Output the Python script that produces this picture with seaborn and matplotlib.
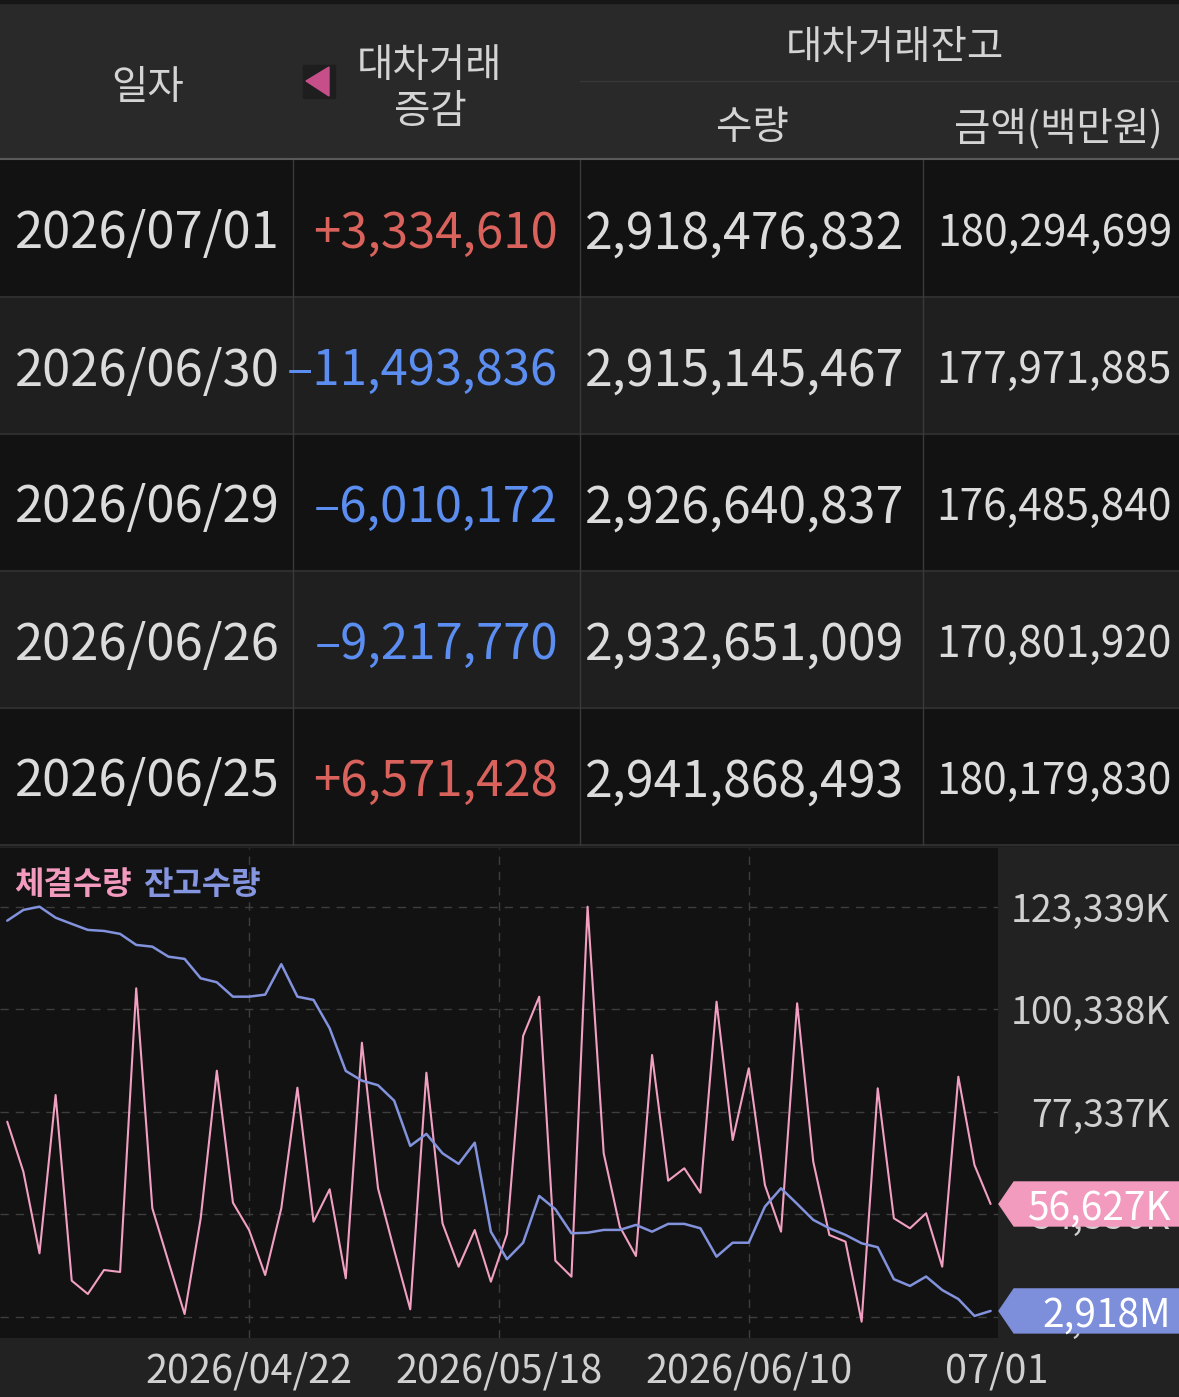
import matplotlib
matplotlib.use("Agg")
import matplotlib.pyplot as plt
from matplotlib.patches import Rectangle, Polygon
import seaborn as sns
import pandas as pd
import numpy as np

# table data
dates = ['2026/07/01', '2026/06/30', '2026/06/29', '2026/06/26', '2026/06/25']
change = [3334610, -11493836, -6010172, -9217770, 6571428]
bal_qty = [2918476832, 2915145467, 2926640837, 2932651009, 2941868493]
bal_amt = [180294699, 177971885, 176485840, 170801920, 180179830]

# chart data (62 trading days), 체결수량 in K shares, 잔고수량 in M shares
trade_k = [75093, 63873, 45562, 81084, 39413, 36429, 41814, 41366, 105028, 55660,
           43677, 31941, 53416, 86537, 56917, 50790, 40692, 55660, 82723, 52653,
           59924, 39952, 92821, 60148, 46302, 32996, 86089, 52294, 42555, 50790,
           39189, 49893, 94324, 103143, 43901, 40311, 123339, 68002, 51531, 44956,
           90060, 61853, 64636, 59161, 102021, 70986, 87076, 60888, 50409, 101662,
           66117, 49668, 48165, 30213, 82588, 53416, 51172, 54538, 42555, 85191,
           65376, 56627]
balance_m = [3183.9, 3191.2, 3193.4, 3185.9, 3181.7, 3177.6, 3176.9, 3174.9, 3167.4, 3166.2,
             3159.4, 3157.9, 3144.7, 3142.0, 3132.2, 3132.2, 3133.6, 3154.3, 3132.2, 3130.0,
             3110.7, 3081.7, 3075.1, 3072.0, 3061.5, 3030.7, 3038.9, 3025.7, 3018.5, 3032.9,
             2972.4, 2953.7, 2964.9, 2996.7, 2987.7, 2971.3, 2971.7, 2973.6, 2973.6, 2977.0,
             2972.4, 2977.7, 2977.7, 2974.7, 2955.4, 2964.9, 2964.9, 2989.4, 3001.9, 2991.3,
             2980.4, 2974.7, 2970.2, 2964.5, 2961.8, 2940.1, 2935.5, 2941.9, 2932.7, 2926.6,
             2915.1, 2918.5]
y_ticks = [123339, 100338, 77337, 54336, 31335]
x_tick_pos = [15, 30.5, 46, 61.4]
x_tick_lbl = ['2026/04/22', '2026/05/18', '2026/06/10', '07/01']

sns.set_style("dark")
plt.rcParams['font.family'] = ['Noto Sans CJK KR', 'DejaVu Sans']
plt.rcParams['axes.unicode_minus'] = False

PINK = '#f2a0c2'
BLUE = '#8292dc'
TXT = '#dcdcdc'
HDR = '#d4d4d4'

W, H = 1179, 1397
fig = plt.figure(figsize=(W / 100, H / 100), dpi=100)
fig.patch.set_facecolor('#222222')

# ---- table (pixel coords, y down)
bg = fig.add_axes([0, 0, 1, 1])
bg.set_xlim(0, W)
bg.set_ylim(H, 0)
bg.axis('off')

bg.add_patch(Rectangle((0, 0), W, 159, color='#292929', zorder=0))
bg.add_patch(Rectangle((0, 0), W, 3, color='#161616', zorder=1))
bg.plot([580, W], [81, 81], color='#383838', lw=1)
bg.plot([0, W], [159, 159], color='#5a5a5a', lw=1.5)

hkw = dict(fontsize=28.5, color=HDR, ha='center', va='center_baseline', weight='medium')
bg.text(148, 84, '일자', **hkw)
bg.add_patch(Rectangle((303, 65), 32, 33, color='#1e1e1e', zorder=1))
bg.add_patch(Polygon([(306, 81), (329, 67), (329, 96)], closed=True, color='#c64f8a', zorder=2))
bg.text(430, 61, '대차거래', **hkw)
bg.text(430, 107, '증감', **hkw)
bg.text(895, 44, '대차거래잔고', **hkw)
bg.text(752, 124, '수량', **hkw)
bg.text(1058, 124, '금액(백만원)', **hkw)

row_top, row_h = 160, 137
for i, d in enumerate(dates):
    y0 = row_top + i * row_h
    bg.add_patch(Rectangle((0, y0), W, row_h, color='#121212' if i % 2 == 0 else '#1f1f1f', zorder=0))
    bg.plot([0, W], [y0 + row_h, y0 + row_h], color='#2e2e2e', lw=1.5)
    yc = y0 + row_h / 2
    c = change[i]
    ctxt = f"{c:+,}".replace('-', '–')
    ccol = '#d9625c' if c > 0 else '#5b8ef0'
    bg.text(147, yc, d, fontsize=36.5, color=TXT, ha='center', va='center_baseline')
    bg.text(558, yc, ctxt, fontsize=35.3, color=ccol, ha='right', va='center_baseline')
    bg.text(904, yc, f"{bal_qty[i]:,}", fontsize=36, color=TXT, ha='right', va='center_baseline')
    bg.text(1172, yc, f"{bal_amt[i]:,}", fontsize=30.5, color=TXT, ha='right', va='center_baseline')
for xv in [293, 580, 923]:
    bg.plot([xv, xv], [row_top, row_top + 5 * row_h], color='#3a3a3a', lw=1)

# ---- chart
df = pd.DataFrame({'idx': np.arange(len(trade_k)), 'trade': trade_k, 'balance': balance_m})

ax = fig.add_axes([0, (H - 1338) / H, 998 / W, (1338 - 848) / H])
ax.set_facecolor('#121212')
ax2 = ax.twinx()
ax2.patch.set_visible(False)

sns.lineplot(data=df, x='idx', y='trade', ax=ax, color=PINK, linewidth=1.5)
sns.lineplot(data=df, x='idx', y='balance', ax=ax2, color=BLUE, linewidth=1.8)

ax.set_xlim(-0.45, 61.46)
ax.set_ylim(26555, 136511)
ax2.set_ylim(2900.1, 3233.3)

for a in (ax, ax2):
    for s in a.spines.values():
        s.set_visible(False)
    a.set_xlabel('')
    a.set_ylabel('')
ax2.set_yticks([])

ax.set_yticks(y_ticks)
ax.set_yticklabels([f"{v:,}K" for v in y_ticks])
ax.yaxis.tick_right()
ax.tick_params(axis='y', length=0, pad=123.8, labelsize=27, labelcolor='#d0d0d0')
for lab in ax.get_yticklabels():
    lab.set_horizontalalignment('right')
    lab.set_fontweight('medium')
ax.set_xticks(x_tick_pos)
ax.set_xticklabels(x_tick_lbl)
ax.tick_params(axis='x', length=0, pad=10, labelsize=28.5, labelcolor='#d0d0d0')
for lab in ax.get_xticklabels():
    lab.set_fontweight('medium')

ax.grid(False)
for v in y_ticks:
    ax.axhline(v, color='#3e3e3e', lw=1, ls=(0, (6, 5)), zorder=0)
for xv in x_tick_pos[:-1]:
    ax.axvline(xv, color='#3e3e3e', lw=1, ls=(0, (6, 5)), zorder=0)

# ---- overlay: legend labels and last-value tags
ov = fig.add_axes([0, 0, 1, 1])
ov.set_xlim(0, W)
ov.set_ylim(H, 0)
ov.axis('off')

ov.text(14, 885, '체결수량', fontsize=23, weight='bold', color='#f29bbf', ha='left', va='center')
ov.text(143, 885, '잔고수량', fontsize=23, weight='bold', color='#8595e0', ha='left', va='center')

def tag(axis, yval, label, color):
    yd = axis.transData.transform((0, yval))[1]
    yc = H - yd
    ov.add_patch(Polygon([(999, yc), (1014, yc - 22), (W, yc - 22), (W, yc + 22), (1014, yc + 22)],
                         closed=True, color=color, zorder=5))
    ov.text(1171, yc, label, fontsize=28, color='white', ha='right', va='center_baseline',
            weight='medium', zorder=6)

tag(ax, trade_k[-1], f"{trade_k[-1]:,}K", '#f29bbf')
tag(ax2, balance_m[-1], f"{balance_m[-1]:,.0f}M", '#7d8edb')

fig.savefig('out.png', dpi=100, facecolor=fig.get_facecolor())
